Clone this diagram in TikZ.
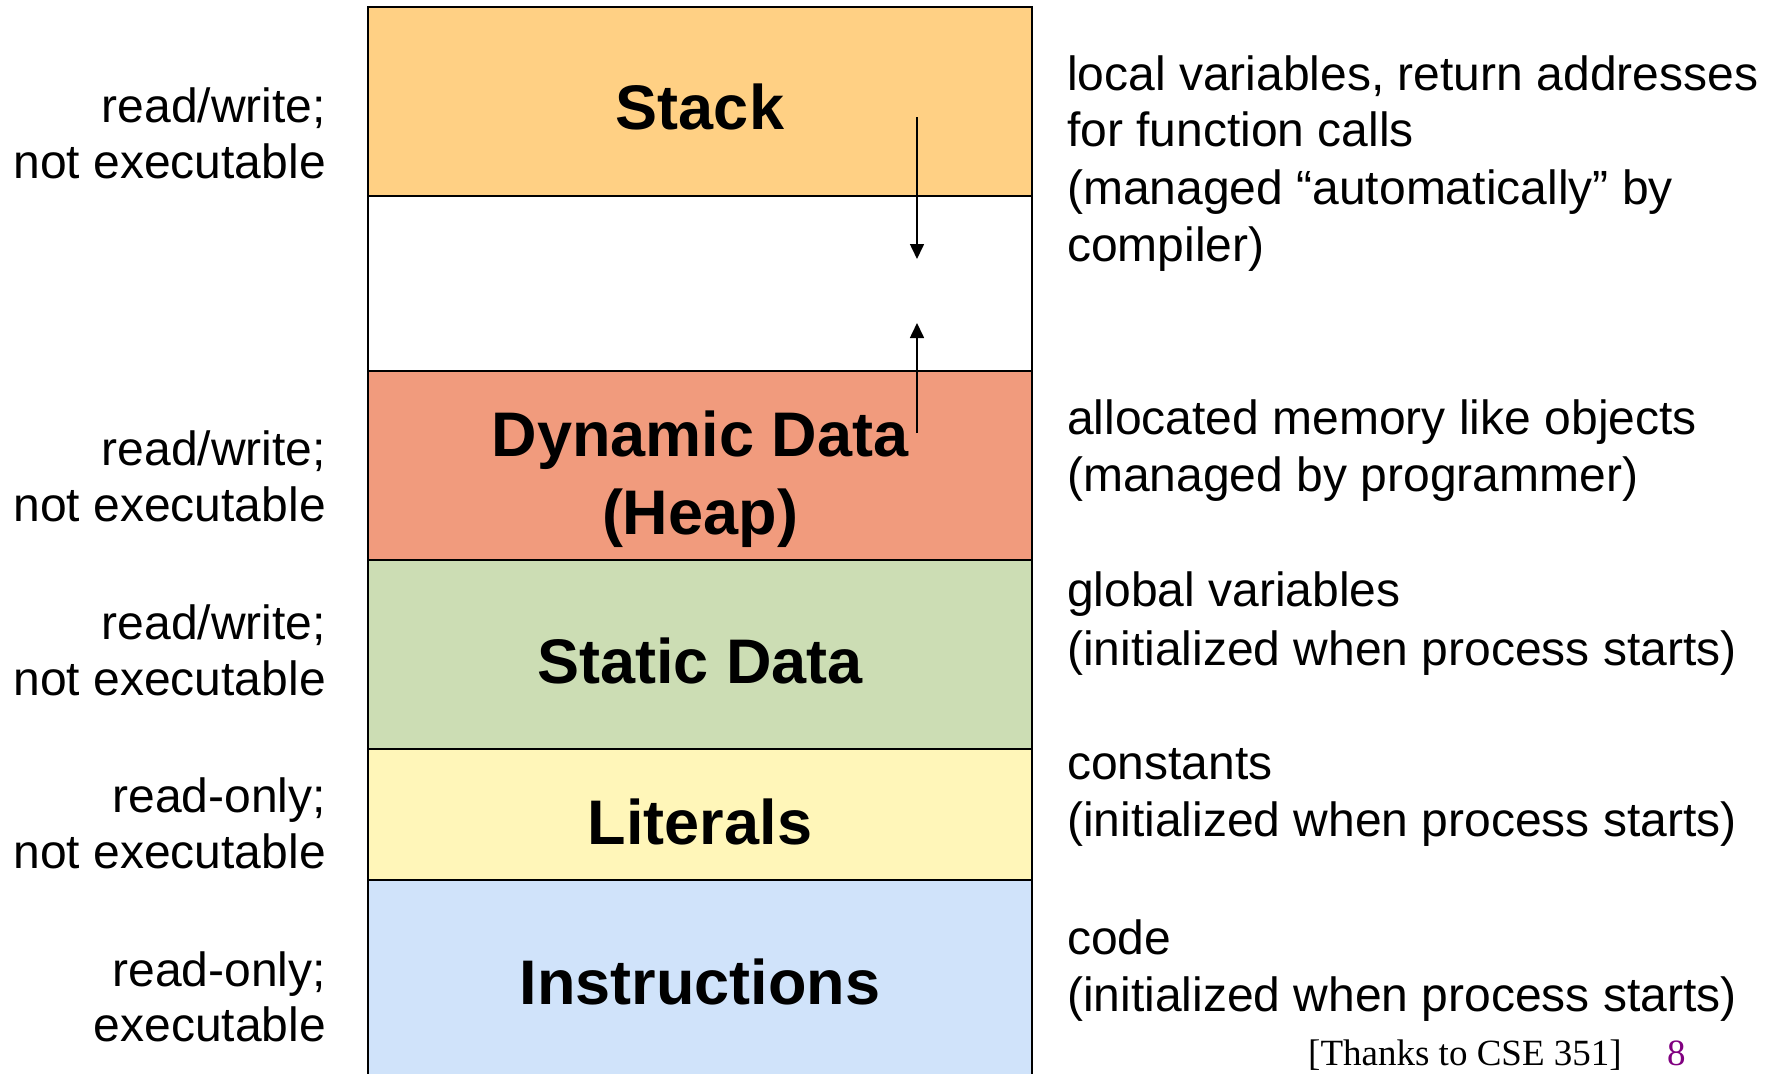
\documentclass[tikz,border=0pt]{standalone}
\usepackage{fontspec}
\setmainfont{Liberation Sans}
\newfontfamily\serifft{Liberation Serif}
\usetikzlibrary{arrows.meta}
\definecolor{stackc}{HTML}{FFD084}
\definecolor{gapc}{HTML}{FFFFFF}
\definecolor{heapc}{HTML}{F19B7D}
\definecolor{staticc}{HTML}{CCDDB4}
\definecolor{litc}{HTML}{FFF6B9}
\definecolor{instrc}{HTML}{D0E3FA}
\definecolor{pagenum}{HTML}{800080}
\begin{document}
\begin{tikzpicture}[x=1pt,y=-1pt,
  seg/.style={rectangle, draw=black, line width=2.5pt, minimum width=664pt, inner sep=0pt, outer sep=0pt},
  seglabel/.style={font=\fontsize{63}{76}\selectfont\bfseries, anchor=base, inner sep=0pt},
  leftside/.style={font=\fontsize{48}{57}\selectfont, anchor=base east, inner sep=0pt},
  rightside/.style={font=\fontsize{48}{57}\selectfont, anchor=base west, inner sep=0pt},
  footer/.style={font=\serifft\fontsize{37}{44}\selectfont, anchor=base west, inner sep=0pt},
  growarrow/.style={-{Triangle[length=15pt,width=14pt]}, line width=1.6pt}]
\useasboundingbox (0,0) rectangle (1776,1073);
% memory segments
\node[seg, fill=stackc,  minimum height=189pt] (stack)  at (700,101.5) {};
\node[seg, fill=gapc,    minimum height=175pt] (gap)    at (700,283.5) {};
\node[seg, fill=heapc,   minimum height=189pt] (heap)   at (700,465.5) {};
\node[seg, fill=staticc, minimum height=189pt] (static) at (700,654.5) {};
\node[seg, fill=litc,    minimum height=131pt] (lit)    at (700,814.5) {};
\node[seg, fill=instrc,  minimum height=210pt] (instr)  at (700,985) {};
% segment labels
\node[seglabel] (lstack)  at (700,129) {Stack};
\node[seglabel] (lheapa)  at (700,456) {Dynamic Data};
\node[seglabel] (lheapb)  at (700,534) {(Heap)};
\node[seglabel] (lstatic) at (700,683) {Static Data};
\node[seglabel] (llit)    at (700,844) {Literals};
\node[seglabel] (linstr)  at (700,1004) {Instructions};
% growth arrows
\coordinate (sdtail) at (917,117);
\coordinate (sdtip)  at (917,259);
\coordinate (hutail) at (917,433);
\coordinate (hutip)  at (917,323);
\draw[growarrow] (sdtail) -- (sdtip);
\draw[growarrow] (hutail) -- (hutip);
% permissions (left)
\node[leftside] (p1a) at (326,122)  {read/write;};
\node[leftside] (p1b) at (326,178)  {not executable};
\node[leftside] (p2a) at (326,465)  {read/write;};
\node[leftside] (p2b) at (326,521)  {not executable};
\node[leftside] (p3a) at (326,639)  {read/write;};
\node[leftside] (p3b) at (326,695)  {not executable};
\node[leftside] (p4a) at (326,812)  {read-only;};
\node[leftside] (p4b) at (326,868)  {not executable};
\node[leftside] (p5a) at (326,986)  {read-only;};
\node[leftside] (p5b) at (326,1041) {executable};
% descriptions (right)
\node[rightside] (d1a) at (1067,90)   {local variables, return addresses};
\node[rightside] (d1b) at (1067,146)  {for function calls};
\node[rightside] (d1c) at (1067,204)  {(managed “automatically” by};
\node[rightside] (d1d) at (1067,261)  {compiler)};
\node[rightside] (d2a) at (1067,434)  {allocated memory like objects};
\node[rightside] (d2b) at (1067,491)  {(managed by programmer)};
\node[rightside] (d3a) at (1067,606)  {global variables};
\node[rightside] (d3b) at (1067,665)  {(initialized when process starts)};
\node[rightside] (d4a) at (1067,779)  {constants};
\node[rightside] (d4b) at (1067,836)  {(initialized when process starts)};
\node[rightside] (d5a) at (1067,954)  {code};
\node[rightside] (d5b) at (1067,1011) {(initialized when process starts)};
% footer
\node[footer] (thanks) at (1308,1065) {[Thanks to CSE 351]};
\node[footer, text=pagenum] (pnum) at (1667,1065) {8};
\end{tikzpicture}
\end{document}
